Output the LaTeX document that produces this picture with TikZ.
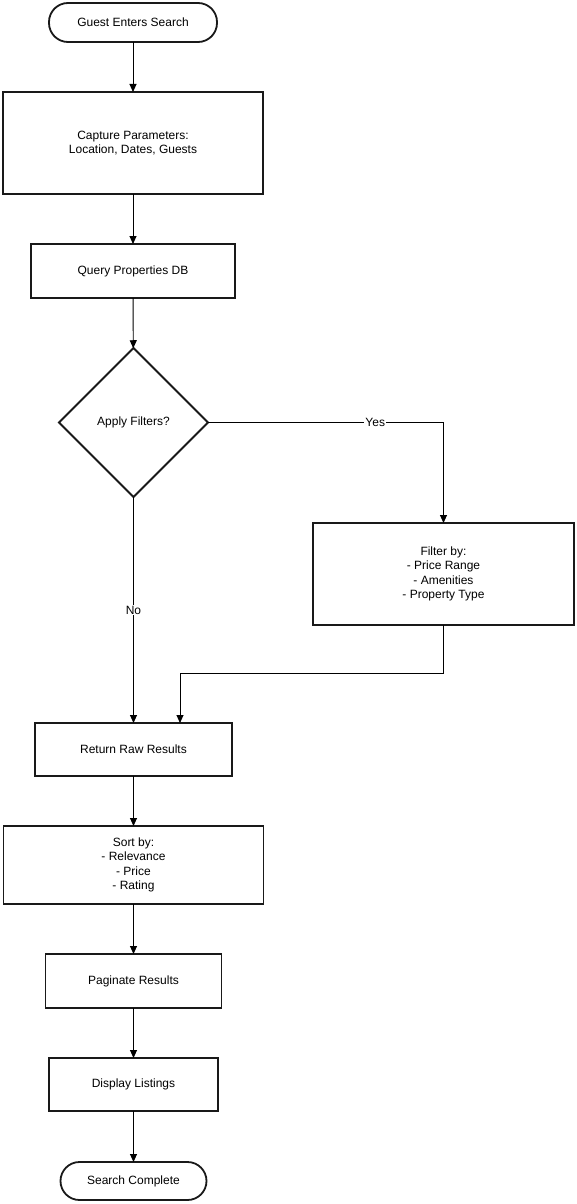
\documentclass[tikz,border=0pt]{standalone}
\usepackage{fontspec}
\setmainfont{Liberation Sans}
\usetikzlibrary{arrows.meta, shapes.geometric, positioning}

\begin{document}
\begin{tikzpicture}[x=1pt, y=1pt,
    every node/.style={font=\fontsize{12}{14.5}\selectfont},
    box/.style={draw, line width=1.8pt, draw=black!90, align=center, inner sep=2pt, outer sep=0pt},
    term/.style={box, rounded corners=19pt, minimum width=168pt, minimum height=39pt},
    decision/.style={draw, line width=1.8pt, draw=black!90, diamond, aspect=1, minimum size=149pt, inner sep=0pt, outer sep=0pt, align=center},
    arr/.style={-{Triangle[length=8pt, width=7pt]}, line width=0.9pt},
    lbl/.style={fill=white, inner sep=1pt}]
    \useasboundingbox (0,0) rectangle (576,-1204);

    \node[term] (start) at (133,-22.5) {Guest Enters Search};
    \node[box, minimum width=260pt, minimum height=102pt] (capture) [below=50pt of start] {Capture Parameters:\\Location, Dates, Guests};
    \node[box, minimum width=204pt, minimum height=54pt] (query) [below=50pt of capture] {Query Properties DB};
    \node[decision] (filters) at (133.5,-422.5) {Apply Filters?};
    \node[box, minimum width=261pt, minimum height=102pt] (filterby) at (443.5,-574) {Filter by:\\- Price Range\\- Amenities\\- Property Type};
    \node[box, minimum width=197pt, minimum height=53pt] (raw) at (133.5,-749.5) {Return Raw Results};
    \node[box, minimum width=260pt, minimum height=78pt] (sortby) [below=50pt of raw] {Sort by:\\- Relevance\\- Price\\- Rating};
    \node[box, minimum width=176pt, minimum height=54pt] (paginate) [below=50pt of sortby] {Paginate Results};
    \node[box, minimum width=169pt, minimum height=53pt] (display) [below=50pt of paginate] {Display Listings};
    \node[term, minimum width=146pt, minimum height=38pt, rounded corners=19pt] (done) [below=51pt of display] {Search Complete};

    \draw[arr] (start) -- (capture);
    \draw[arr] (capture) -- (query);
    \draw[arr] (query) -- (filters);
    \draw[arr] (filters.east) -| node[lbl, pos=0.355] {Yes} (filterby.north);
    \draw[arr] (filters.south) -- node[lbl] {No} (raw.north);
    \draw[arr] (filterby.south) -- ++(0,-48) -| ([xshift=46.5pt]raw.north);
    \draw[arr] (raw) -- (sortby);
    \draw[arr] (sortby) -- (paginate);
    \draw[arr] (paginate) -- (display);
    \draw[arr] (display) -- (done);
\end{tikzpicture}
\end{document}
